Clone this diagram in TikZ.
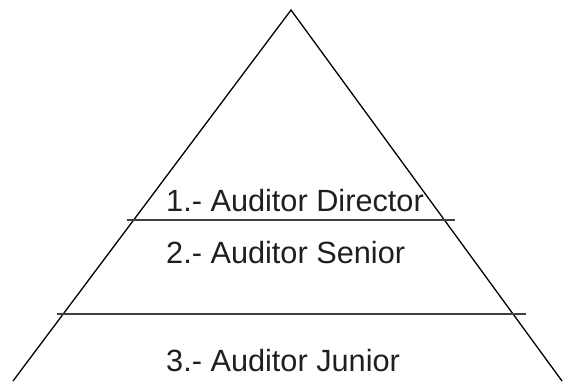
\documentclass[tikz,border=0pt]{standalone}
\usepackage{fontspec}
\setmainfont{Liberation Sans}
\begin{document}
\begin{tikzpicture}[x=1pt,y=-1pt,
  edge/.style={line width=1.3pt,black},
  divider/.style={line width=1.8pt,black!75},
  level/.style={anchor=base west,inner sep=0pt,text=black!88,
    font=\fontsize{30.7}{36}\selectfont}]
\useasboundingbox (0,0) rectangle (563,381);
% pyramid outline
\coordinate (apex) at (291,10);
\coordinate (bl) at (13,381);
\coordinate (br) at (562,381);
\draw[edge] (bl) -- (apex) -- (br);
% level dividers
\coordinate (d1l) at (127,220);
\coordinate (d1r) at (455,220);
\coordinate (d2l) at (57,314);
\coordinate (d2r) at (526,314);
\draw[divider] (d1l) -- (d1r);
\draw[divider] (d2l) -- (d2r);
% level labels
\node[level] (l1) at (166,211) {1.- Auditor Director};
\node[level] (l2) at (166,263) {2.- Auditor Senior};
\node[level] (l3) at (166,371) {3.- Auditor Junior};
\end{tikzpicture}
\end{document}
